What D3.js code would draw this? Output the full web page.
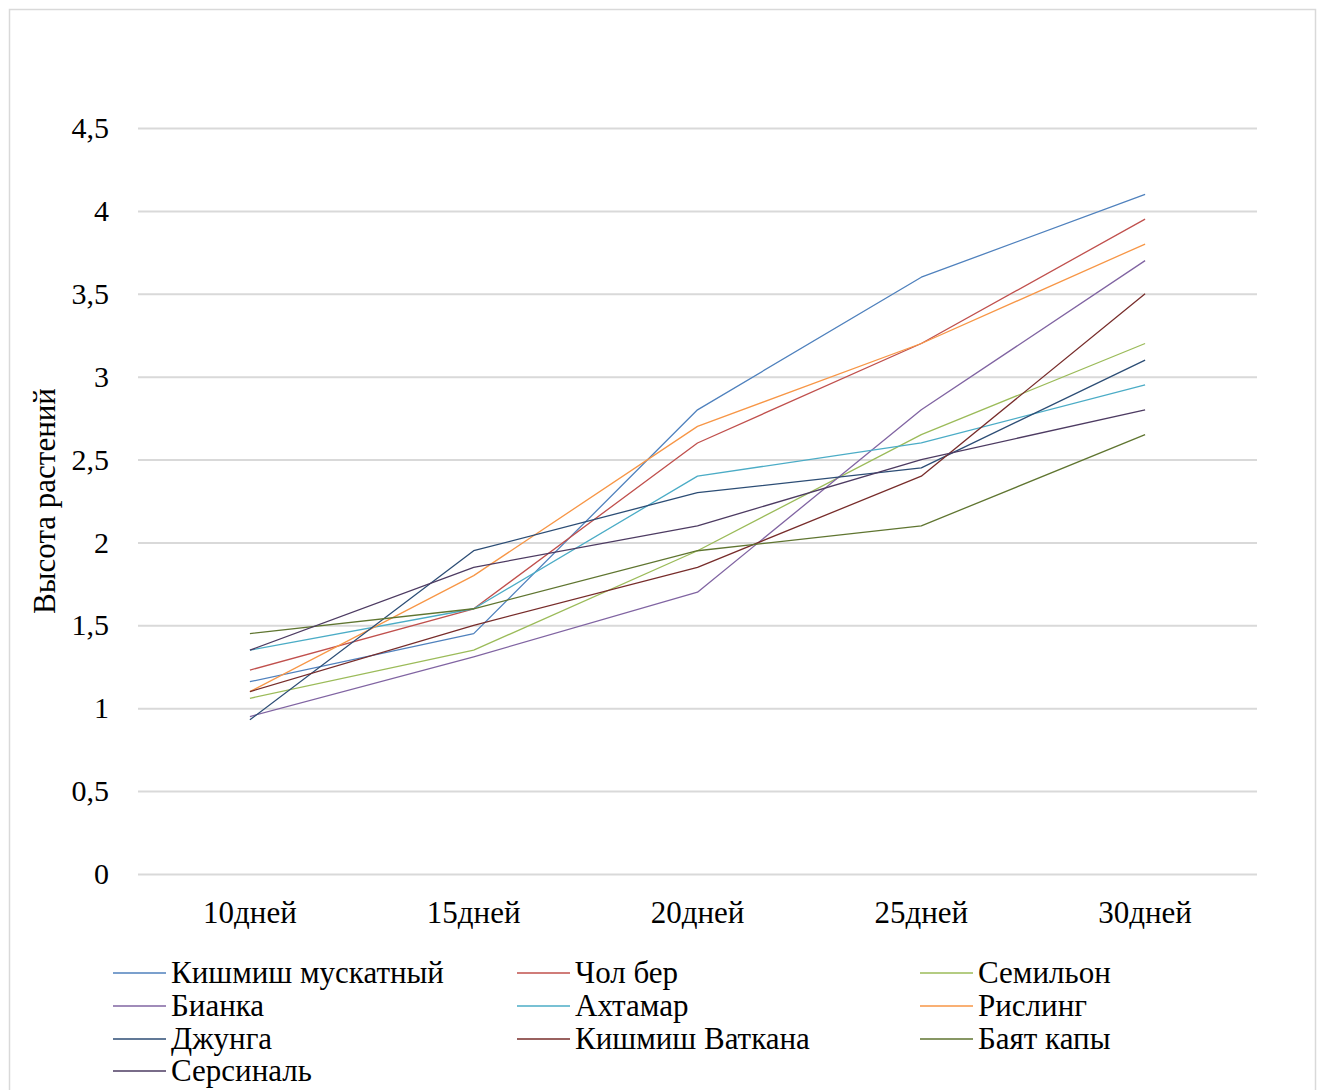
<!DOCTYPE html>
<html>
<head>
<meta charset="utf-8">
<script src="https://cdn.jsdelivr.net/npm/d3@7"></script>
<style>
  html, body { margin: 0; padding: 0; background: #fff; }
  svg { display: block; }
</style>
</head>
<body>
<svg id="chart" width="1321" height="1090"></svg>
<script>
// Сроки измерения
const categories = ["10дней", "15дней", "20дней", "25дней", "30дней"];

// Высота растений по сортам
const kishmishMuskatny = [1.16, 1.45, 2.8, 3.6, 4.1];
const cholBer          = [1.23, 1.6, 2.6, 3.2, 3.95];
const semilon          = [1.06, 1.35, 1.95, 2.65, 3.2];
const bianka           = [0.95, 1.31, 1.7, 2.8, 3.7];
const akhtamar         = [1.35, 1.6, 2.4, 2.6, 2.95];
const risling          = [1.1, 1.8, 2.7, 3.2, 3.8];
const dzhunga          = [0.93, 1.95, 2.3, 2.45, 3.1];
const kishmishVatkana  = [1.1, 1.5, 1.85, 2.4, 3.5];
const bayatKapy        = [1.45, 1.6, 1.95, 2.1, 2.65];
const sersinal         = [1.35, 1.85, 2.1, 2.5, 2.8];

const seriesNames = ["Кишмиш мускатный", "Чол бер", "Семильон", "Бианка", "Ахтамар",
                     "Рислинг", "Джунга", "Кишмиш Ваткана", "Баят капы", "Серсиналь"];
const seriesValues = [kishmishMuskatny, cholBer, semilon, bianka, akhtamar,
                      risling, dzhunga, kishmishVatkana, bayatKapy, sersinal];

const yTicks = [0, 0.5, 1, 1.5, 2, 2.5, 3, 3.5, 4, 4.5];
const yTickLabels = ["0", "0,5", "1", "1,5", "2", "2,5", "3", "3,5", "4", "4,5"];

const colors = ["#4F81BD", "#C0504D", "#9BBB59", "#8064A2", "#4BACC6",
                "#F79646", "#2C4D75", "#772C2A", "#5F7530", "#4D3B62"];

const FONT = '"Liberation Serif", "Times New Roman", serif';

const svg = d3.select("#chart");

// Рамка области диаграммы
svg.append("rect")
  .attr("x", 9.5).attr("y", 9.5)
  .attr("width", 1306).attr("height", 1100)
  .attr("fill", "#fff")
  .attr("stroke", "#D9D9D9")
  .attr("stroke-width", 1.5);

const plot = { left: 138, right: 1257, top: 128, bottom: 874 };

const x = d3.scaleBand()
  .domain(categories)
  .range([plot.left, plot.right])
  .paddingInner(0).paddingOuter(0);

const y = d3.scaleLinear()
  .domain([0, 4.5])
  .range([plot.bottom, plot.top]);

// Горизонтальная сетка и подписи значений
const yAxis = d3.axisLeft(y)
  .tickValues(yTicks)
  .tickSize(-(plot.right - plot.left))
  .tickPadding(29)
  .tickFormat((d, i) => yTickLabels[i]);

const gy = svg.append("g")
  .attr("transform", `translate(${plot.left},0)`)
  .call(yAxis);
gy.select(".domain").remove();
gy.selectAll(".tick line")
  .attr("stroke", "#D9D9D9")
  .attr("stroke-width", 2);
gy.selectAll(".tick text")
  .style("font-family", FONT)
  .style("font-size", "30px")
  .style("fill", "#000");

// Подписи категорий
const xAxis = d3.axisBottom(x).tickSize(0).tickPadding(27);
const gx = svg.append("g")
  .attr("transform", `translate(0,${plot.bottom})`)
  .call(xAxis);
gx.select(".domain").remove();
gx.selectAll(".tick text")
  .style("font-family", FONT)
  .style("font-size", "31px")
  .style("fill", "#000");

// Название оси Y
svg.append("text")
  .attr("transform", `translate(55,${(plot.top + plot.bottom) / 2}) rotate(-90)`)
  .attr("text-anchor", "middle")
  .style("font-family", FONT)
  .style("font-size", "31px")
  .style("fill", "#000")
  .text("Высота растений");

// Линии сортов
const line = d3.line()
  .x((d, i) => x(categories[i]) + x.bandwidth() / 2)
  .y(d => y(d));

svg.append("g")
  .selectAll("path")
  .data(seriesValues)
  .join("path")
  .attr("d", d => line(d))
  .attr("fill", "none")
  .attr("stroke", (d, i) => colors[i])
  .attr("stroke-width", 1.3)
  .attr("stroke-linejoin", "round");

// Легенда
const legendCols = [113, 517, 920];
const legendRowY = [973, 1006, 1039, 1071];
const legend = svg.append("g");
seriesNames.forEach((name, i) => {
  const col = i % 3, row = Math.floor(i / 3);
  const lx = legendCols[col], ly = legendRowY[row];
  legend.append("line")
    .attr("x1", lx).attr("x2", lx + 53)
    .attr("y1", ly).attr("y2", ly)
    .attr("stroke", colors[i])
    .attr("stroke-width", 1.3);
  legend.append("text")
    .attr("x", lx + 58).attr("y", ly + 10)
    .style("font-family", FONT)
    .style("font-size", "31px")
    .style("fill", "#000")
    .text(name);
});
</script>
</body>
</html>
